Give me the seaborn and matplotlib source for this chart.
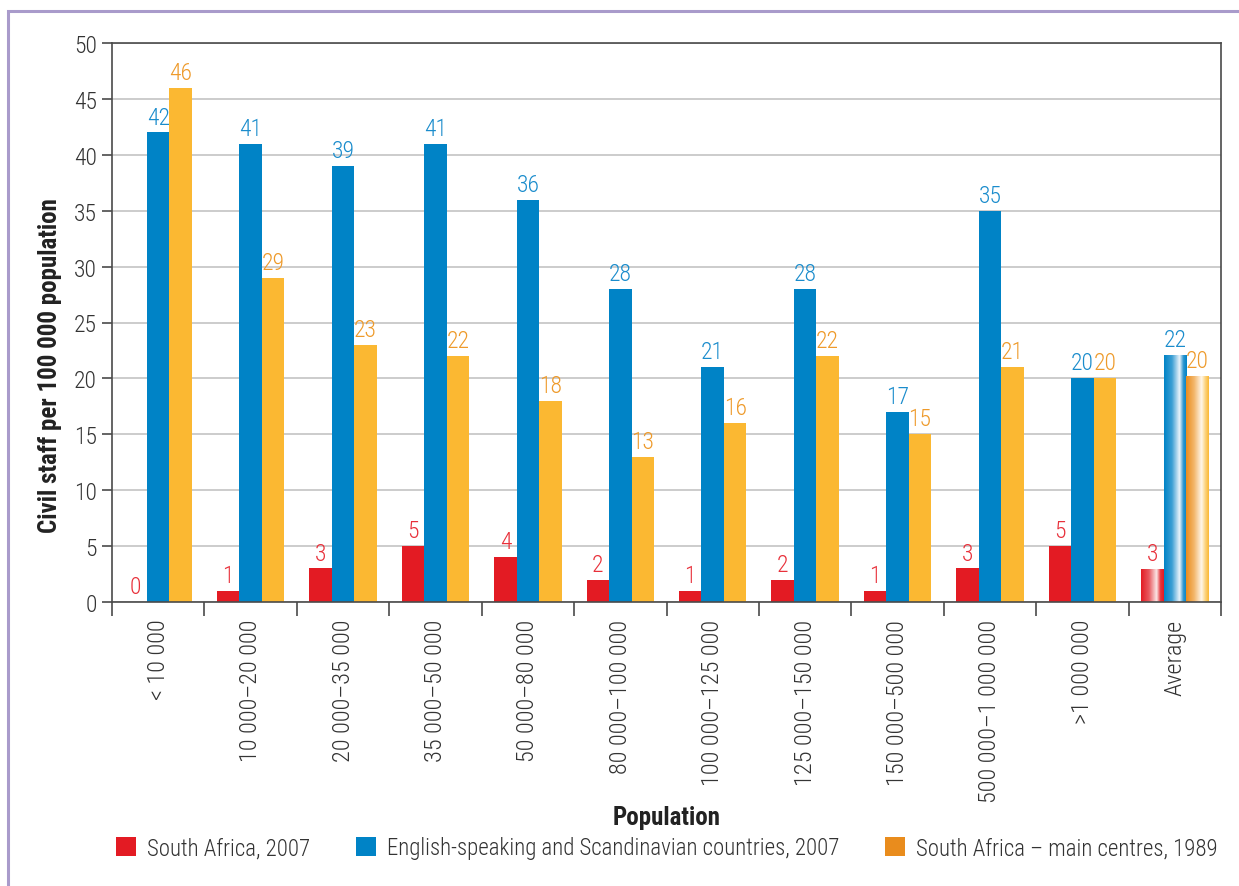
import numpy as np
import pandas as pd
import matplotlib
matplotlib.use("Agg")
import matplotlib.pyplot as plt
import seaborn as sns
from matplotlib import font_manager
from matplotlib.patches import Rectangle, Patch
from matplotlib.colors import LinearSegmentedColormap

categories = ["< 10 000", "10 000\u201320 000", "20 000\u201335 000", "35 000\u201350 000",
              "50 000\u201380 000", "80 000\u2013100 000", "100 000\u2013125 000",
              "125 000\u2013150 000", "150 000\u2013500 000", "500 000\u20131 000 000",
              ">1 000 000", "Average"]
series_names = ["South Africa, 2007",
                "English-speaking and Scandinavian countries, 2007",
                "South Africa \u2013 main centres, 1989"]
sa_2007 = [0, 1, 3, 5, 4, 2, 1, 2, 1, 3, 5, 2.95]
eng_scan_2007 = [42, 41, 39, 41, 36, 28, 21, 28, 17, 35, 20, 22.1]
sa_1989 = [46, 29, 23, 22, 18, 13, 16, 22, 15, 21, 20, 20.2]
y_ticks = [0, 5, 10, 15, 20, 25, 30, 35, 40, 45, 50]

sns.set_theme(style="white")
names = {f.name for f in font_manager.fontManager.ttflist}
font = "DejaVu Sans"
for cand in ["Roboto Condensed", "Liberation Sans Narrow", "Open Sans Condensed",
             "Noto Sans Condensed", "Roboto"]:
    if cand in names:
        font = cand
        break
plt.rcParams["font.family"] = [font, "DejaVu Sans"]
LW = "light"

bar_colors = ["#e31b23", "#0083c6", "#fbb832"]
label_colors = ["#e8303a", "#1a8ccc", "#ee9a2a"]
legend_colors = ["#e31b23", "#0083c6", "#e98c1d"]

df = pd.DataFrame({
    "Population": categories * 3,
    "value": sa_2007 + eng_scan_2007 + sa_1989,
    "series": sum([[s] * len(categories) for s in series_names], []),
})

fig = plt.figure(figsize=(12.39, 8.87), dpi=100)
ax = fig.add_axes([112 / 1239, 1 - 603 / 887, (1221 - 112) / 1239, (603 - 44) / 887])
sns.barplot(data=df, x="Population", y="value", hue="series", order=categories,
            hue_order=series_names, palette=bar_colors, width=0.73, gap=0,
            saturation=1, ax=ax, legend=False, linewidth=0, errorbar=None)

ax.set_ylim(0, 50)
ax.set_xlim(-0.5, len(categories) - 0.5)
ax.set_yticks(y_ticks)
ax.set_yticklabels([str(t) for t in y_ticks], fontsize=17, fontweight=LW, color="#333333")
ax.yaxis.grid(True, color="#c8c8c8", linewidth=1.3)
ax.set_axisbelow(True)
for s in ax.spines.values():
    s.set_color("#4a4a4a")
    s.set_linewidth(1.2)
ax.tick_params(axis="y", which="major", length=7, width=1.2, color="#4a4a4a",
               pad=4, left=True)
ax.set_xticks(range(len(categories)))
ax.set_xticklabels(categories, rotation=90, fontsize=17.5, fontweight=LW,
                   color="#333333", va="top")
ax.tick_params(axis="x", which="major", length=0, pad=12)
ax.set_xticks(np.arange(-0.5, len(categories), 1), minor=True)
ax.tick_params(axis="x", which="minor", length=10, width=1.2, color="#4a4a4a", bottom=True)

ax.set_ylabel("Civil staff per 100 000 population", fontsize=18, fontweight="bold",
              color="#222222")
ax.yaxis.set_label_coords((62 - 112) / 1109, 1 - (366 - 44) / 559)
ax.set_xlabel("Population", fontsize=18, fontweight="bold", color="#222222")
ax.xaxis.set_label_coords(0.5, -(806 - 603) / (603 - 44))

# value labels
for i, cont in enumerate(ax.containers):
    for bar in cont:
        h = bar.get_height()
        ax.text(bar.get_x() + bar.get_width() / 2, h + 0.35, f"{round(h):d}",
                ha="center", va="bottom", fontsize=17, fontweight=LW,
                color=label_colors[i])

# gradient fill for the Average bars
grads = [
    ["#e31b23", "#e85a60", "#fbe6e6", "#e6353c", "#e31b23"],
    ["#0083c6", "#3c9fd4", "#eaf4fb", "#2b95cf", "#0083c6"],
    ["#e98c1d", "#f3b66a", "#fff7ea", "#fcd27a", "#fbb832"],
]
stops = [0.0, 0.35, 0.68, 0.85, 1.0]
for i, cont in enumerate(ax.containers):
    bar = cont[len(categories) - 1]
    x0, w, h = bar.get_x(), bar.get_width(), bar.get_height()
    cmap = LinearSegmentedColormap.from_list(f"g{i}", list(zip(stops, grads[i])))
    bar.set_alpha(0)
    im = ax.imshow(np.linspace(0, 1, 256)[None, :], cmap=cmap, aspect="auto",
                   extent=[x0, x0 + w, 0, h], zorder=bar.get_zorder())
    clip = Rectangle((x0, 0), w, h, transform=ax.transData)
    im.set_clip_path(clip)
ax.set_xlim(-0.5, len(categories) - 0.5)
ax.set_ylim(0, 50)

handles = [Patch(facecolor=c, edgecolor="none") for c in legend_colors]
fig.legend(handles, series_names, loc="center", bbox_to_anchor=(667 / 1239, 1 - 849 / 887),
           ncol=3, frameon=False, prop={"size": 16.5, "weight": LW},
           handlelength=0.85, handleheight=0.85, handletextpad=0.5,
           columnspacing=2.0, labelcolor="#333333")

fig.patches.append(Rectangle((8 / 1239, -0.05), 1.1, 1 - 12 / 887 + 0.05,
                             transform=fig.transFigure, fill=False,
                             edgecolor="#a99bcb", linewidth=2.2, zorder=0))

fig.savefig("out.png", dpi=100)
